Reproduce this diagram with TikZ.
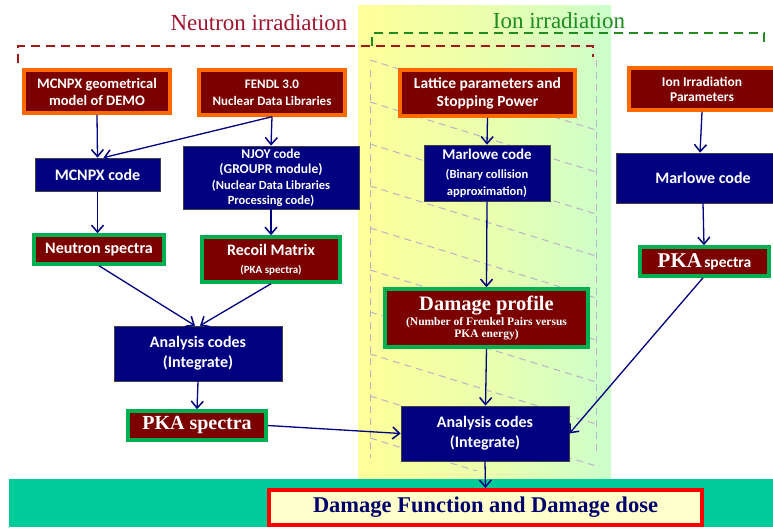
\documentclass[tikz,border=0pt]{standalone}
\usepackage{fontspec}
\setmainfont{Liberation Serif}
\newfontfamily\calib{Carlito}
\usetikzlibrary{arrows.meta}
\definecolor{dred}{HTML}{7B0000}
\definecolor{orng}{HTML}{FF6A00}
\definecolor{grnb}{HTML}{00B050}
\definecolor{navyb}{HTML}{000080}
\definecolor{tealb}{HTML}{00CC99}
\definecolor{paley}{HTML}{FFFFCC}
\definecolor{titred}{HTML}{A0142D}
\definecolor{titgrn}{HTML}{1E8C1E}
\definecolor{dashred}{HTML}{A01818}
\definecolor{dashgrn}{HTML}{1E8C1E}
\definecolor{yel}{HTML}{FFFF99}
\definecolor{lgrn}{HTML}{CCFFCC}
\definecolor{hatchc}{HTML}{B8B4C4}
\tikzset{
  srcbox/.style={fill=dred, draw=orng, line width=3.5pt, text=white, font=\calib\bfseries, align=center, inner sep=1pt},
  codebox/.style={fill=navyb, draw=black!75, line width=0.7pt, text=white, font=\calib\bfseries, align=center, inner sep=1pt},
  resbox/.style={fill=dred, draw=grnb, line width=3.5pt, text=white, font=\calib\bfseries, align=center, inner sep=1pt},
  conn/.style={draw=navyb, line width=1.3pt, -{Straight Barb[length=7pt,width=12pt,line width=1.5pt]}},
  hatch/.style={draw=hatchc, line width=1pt, dash pattern=on 7pt off 5pt},
}
\begin{document}
\begin{tikzpicture}[x=1pt,y=-1pt]
\useasboundingbox (0,0) rectangle (773,527);
% gradient background
\shade[left color=yel, right color=lgrn, middle color=yel!60!lgrn] (358,6) rectangle (611,479);
% hatching
\begin{scope}
\clip (370,60) rectangle (596,470);
\foreach \yy in {-10,32,74,116,158,200,242,284,326,368,410} {
  \draw[hatch] (370,\yy+70) -- (596,\yy+140);
}
\end{scope}
\draw[hatch] (370,70) -- (370,458);
\draw[hatch] (596,60) -- (596,455);
% teal band
\fill[tealb] (9,479) rectangle (773,527);
% titles
\node[text=titred, font=\fontsize{23}{26}\selectfont, anchor=base] (tn) at (259,31) {Neutron irradiation};
\node[text=titgrn, font=\fontsize{23}{26}\selectfont, anchor=base] (ti) at (559,29) {Ion irradiation};
% dashed brackets
\coordinate (rn1) at (18,63); \coordinate (rn2) at (18,46);
\coordinate (rn3) at (593,46); \coordinate (rn4) at (593,57);
\draw[dashred, line width=1.5pt, dash pattern=on 9pt off 6pt] (rn1) -- (rn2) -- (rn3) -- (rn4);
\coordinate (gn1) at (372,46); \coordinate (gn2) at (372,33);
\coordinate (gn3) at (764,33); \coordinate (gn4) at (764,45);
\draw[dashgrn, line width=1.5pt, dash pattern=on 9pt off 6pt] (gn1) -- (gn2) -- (gn3) -- (gn4);
% source boxes
\node[srcbox, minimum width=146pt, minimum height=43pt, font=\calib\bfseries\fontsize{14.5}{17}\selectfont] (geom) at (97,91.5) {MCNPX geometrical\\model of DEMO};
\node[srcbox, minimum width=146pt, minimum height=45pt, font=\calib\bfseries\fontsize{13}{17}\selectfont] (fendl) at (272,92.5) {FENDL 3.0\\Nuclear Data Libraries};
\node[srcbox, minimum width=175pt, minimum height=46pt, font=\calib\bfseries\fontsize{15.5}{18}\selectfont] (latt) at (487.5,93) {Lattice parameters and\\Stopping Power};
\node[srcbox, minimum width=146pt, minimum height=42pt, font=\calib\bfseries\fontsize{13.5}{15}\selectfont] (ionp) at (702,89) {Ion Irradiation\\Parameters};
% code boxes
\node[codebox, minimum width=125pt, minimum height=33pt, font=\calib\bfseries\fontsize{16}{18}\selectfont] (mcnpx) at (97.5,174.5) {MCNPX code};
\node[codebox, minimum width=176pt, minimum height=63pt, font=\calib\bfseries\fontsize{13.5}{15}\selectfont] (njoy) at (271,177.5) {NJOY code\\[0pt](GROUPR module)\\[1pt]{\fontsize{12.5}{10}\selectfont(Nuclear Data Libraries}\\{\fontsize{12.5}{10}\selectfont Processing code)}};
\node[codebox, minimum width=126pt, minimum height=56pt, font=\calib\bfseries\fontsize{15}{17}\selectfont] (marl) at (487,173) {Marlowe code\\[2pt]{\fontsize{12.5}{14}\selectfont(Binary collision}\\{\fontsize{12.5}{14}\selectfont approximation)}};
\node[codebox, minimum width=174pt, minimum height=50pt, font=\calib\bfseries\fontsize{16}{18}\selectfont] (marlR) at (703,178) {Marlowe code};
% result boxes
\node[resbox, minimum width=130pt, minimum height=29pt, font=\calib\bfseries\fontsize{16}{18}\selectfont] (nspec) at (99,249.5) {Neutron spectra};
\node[resbox, minimum width=138pt, minimum height=45pt, font=\calib\bfseries\fontsize{16}{18}\selectfont] (recoil) at (271,259.5) {Recoil Matrix\\[0pt]{\fontsize{11}{13}\selectfont(PKA spectra)}};
\node[resbox, minimum width=129pt, minimum height=29pt] (pkaR) at (704.5,261.5) {{\rmfamily\bfseries\fontsize{21}{22}\selectfont PKA} {\fontsize{15.5}{16}\selectfont spectra}};
\node[resbox, minimum width=203pt, minimum height=58pt, font=\rmfamily\bfseries] (dprof) at (486.5,318) {{\fontsize{20.5}{22}\selectfont Damage profile}\\[1pt]{\fontsize{11.5}{13}\selectfont(Number of Frenkel Pairs versus}\\{\fontsize{11.5}{13}\selectfont PKA energy)}};
\node[codebox, minimum width=168pt, minimum height=55pt, font=\calib\bfseries\fontsize{16}{20}\selectfont] (anaL) at (198,353.5) {Analysis codes\\(Integrate)};
\node[resbox, minimum width=138pt, minimum height=29pt, font=\rmfamily\bfseries\fontsize{20}{22}\selectfont] (pkaL) at (197,425.5) {PKA spectra};
\node[codebox, minimum width=168pt, minimum height=55pt, font=\calib\bfseries\fontsize{16}{20}\selectfont] (anaR) at (485,433.5) {Analysis codes\\(Integrate)};
\node[fill=paley, draw=red, line width=4pt, minimum width=433pt, minimum height=35pt, text=navyb!85!black, font=\rmfamily\bfseries\fontsize{22.5}{24}\selectfont] (final) at (485.5,507.5) {Damage Function and Damage dose};
% connectors
\draw[conn] (geom.south) -- (mcnpx.north);
\draw[conn] (fendl.south) -- ([xshift=6pt]mcnpx.north);
\draw[conn] (fendl.south) -- ([yshift=0pt]njoy.north);
\draw[conn] (mcnpx.south) -- ([xshift=-1.5pt]nspec.north);
\draw[conn] (njoy.south) -- (recoil.north);
\draw[conn] (nspec.south) -- ([xshift=-3pt]anaL.north);
\draw[conn] (recoil.south) -- ([xshift=2pt]anaL.north);
\draw[conn] (anaL.south) -- (pkaL.north);
\draw[conn] (pkaL.east) -- (anaR.west);
\draw[conn] (latt.south) -- (marl.north);
\draw[conn] (marl.south) -- (dprof.north);
\draw[conn] (dprof.south) -- ([xshift=0.5pt]anaR.north);
\draw[conn] (ionp.south) -- ([xshift=-3pt]marlR.north);
\draw[conn] (marlR.south) -- ([xshift=-0.5pt]pkaR.north);
\draw[conn] ([xshift=-1.5pt]pkaR.south) -- (anaR.east);
\draw[conn] (anaR.south) -- (final.north);
\end{tikzpicture}
\end{document}
